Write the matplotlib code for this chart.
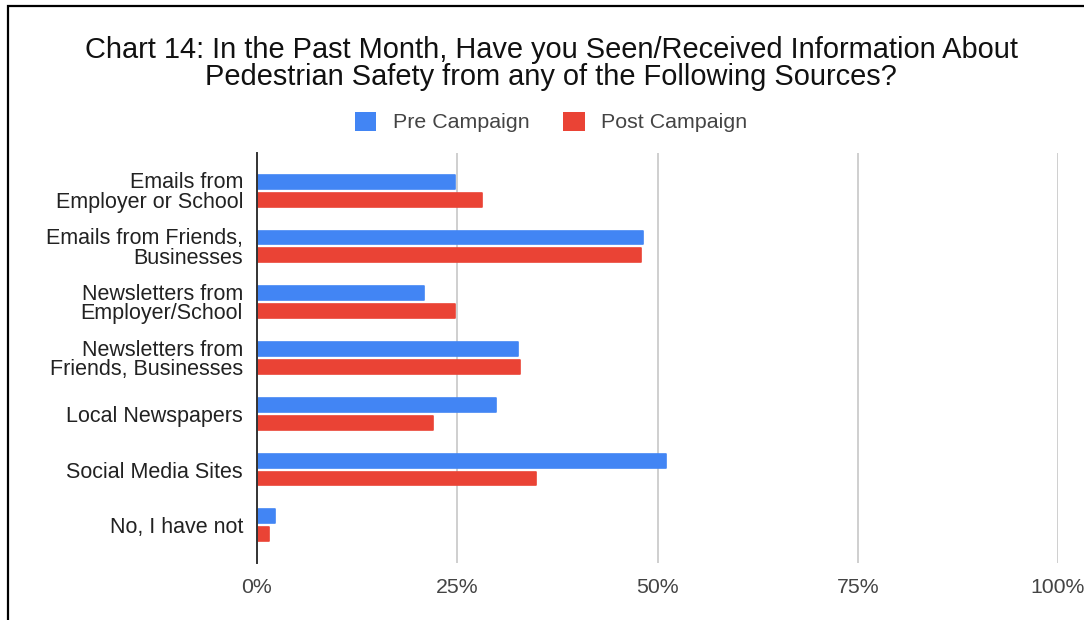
import numpy as np
import matplotlib
matplotlib.use('Agg')
import matplotlib.pyplot as plt
from matplotlib.patches import Rectangle, Patch
from matplotlib.ticker import FuncFormatter

plt.rcParams['font.family'] = ['Liberation Sans', 'DejaVu Sans']

# Survey answers (share of respondents)
sources = [
    'Emails from\nEmployer or School',
    'Emails from Friends,\nBusinesses',
    'Newsletters from\nEmployer/School',
    'Newsletters from\nFriends, Businesses',
    'Local Newspapers',
    'Social Media Sites',
    'No, I have not',
]
pre_campaign = [0.247, 0.482, 0.209, 0.326, 0.299, 0.511, 0.023]
post_campaign = [0.281, 0.480, 0.247, 0.328, 0.220, 0.348, 0.015]
x_ticks = [0, 0.25, 0.5, 0.75, 1.0]

BLUE = '#4285F4'
RED = '#EA4335'

fig = plt.figure(figsize=(10.84, 6.2), dpi=100)
ax = fig.add_axes([257 / 1084, 1 - 563 / 620, 801 / 1084, 410 / 620])

y = np.arange(len(sources))
h = 0.25
off = 0.16
# thin edge in the fill colour with round joins softens the bar corners
ax.barh(y - off, pre_campaign, height=h, color=BLUE, edgecolor=BLUE, linewidth=1.2,
        joinstyle='round', label='Pre Campaign', zorder=3)
ax.barh(y + off, post_campaign, height=h, color=RED, edgecolor=RED, linewidth=1.2,
        joinstyle='round', label='Post Campaign', zorder=3)

ax.set_xlim(0, 1)
ax.set_ylim(len(sources) - 1 + 0.675, -0.675)
ax.set_yticks(y)
ax.set_yticklabels(sources, fontsize=15.5, color='#222222', linespacing=0.92)
ax.set_xticks(x_ticks)
ax.xaxis.set_major_formatter(FuncFormatter(lambda v, p: f'{v * 100:.0f}%'))
ax.tick_params(axis='x', labelsize=15.3, labelcolor='#444444', length=0, pad=11)
ax.tick_params(axis='y', length=0, pad=10)

ax.grid(axis='x', color='#cccccc', linewidth=1.3, zorder=0)
for s in ['top', 'right', 'bottom']:
    ax.spines[s].set_visible(False)
ax.spines['left'].set_color('#333333')
ax.spines['left'].set_linewidth(1.4)
ax.spines['left'].set_zorder(4)

fig.text(551 / 1084, 1 - 63.5 / 620,
         'Chart 14: In the Past Month, Have you Seen/Received Information About\n'
         'Pedestrian Safety from any of the Following Sources?',
         ha='center', va='center', fontsize=20.9, color='#111111', linespacing=0.95)

handles = [Patch(facecolor=BLUE, label='Pre Campaign'),
           Patch(facecolor=RED, label='Post Campaign')]
fig.legend(handles=handles, loc='center', bbox_to_anchor=(551 / 1084, 1 - 122 / 620),
           ncol=2, frameon=False, fontsize=15.4, handlelength=1.0, handleheight=1.0,
           handletextpad=0.75, columnspacing=1.6, labelcolor='#444444')

# outer frame
fig.patches.append(Rectangle((8 / 1084, -0.1), 1.2, 1.1 - 6 / 620, transform=fig.transFigure,
                             fill=False, edgecolor='black', linewidth=1.6))

fig.savefig('out.png', dpi=100)
